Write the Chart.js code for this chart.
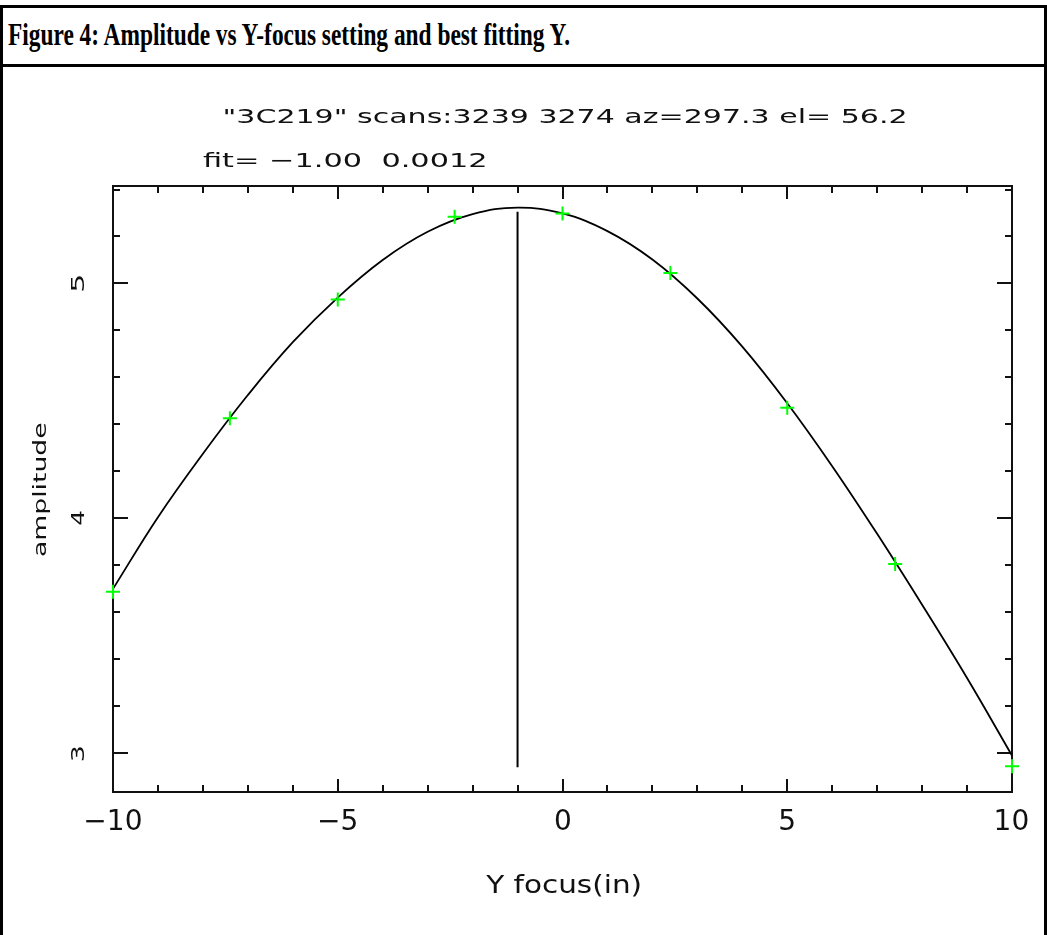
<!DOCTYPE html>
<html><head><meta charset="utf-8">
<script src="https://cdn.jsdelivr.net/npm/chart.js@4.4.1/dist/chart.umd.min.js"></script>
<style>
html,body{margin:0;padding:0;background:#fff;width:1047px;height:935px;overflow:hidden;}
#wrap{position:relative;width:1047px;height:935px;}
#frameL{position:absolute;left:0;top:5px;width:3px;height:930px;background:#000}
#frameR{position:absolute;left:1044px;top:5px;width:3px;height:930px;background:#000}
#frameT{position:absolute;left:0;top:5px;width:1047px;height:3px;background:#000}
#sep{position:absolute;left:0;top:64px;width:1047px;height:3px;background:#000}
#head{position:absolute;left:8px;top:16px;font:bold 32px "Liberation Serif","Times New Roman",serif;white-space:nowrap;transform-origin:0 0;line-height:36px;color:#000}
canvas{position:absolute;left:0;top:0}
</style></head>
<body><div id="wrap">
<div id="frameL"></div><div id="frameR"></div><div id="frameT"></div><div id="sep"></div>
<div id="head"><span id="headtxt">Figure 4: Amplitude vs Y-focus setting and best fitting Y.</span></div>
<canvas id="c" width="1047" height="935"></canvas>
</div>
<script>
// ---- data ----
const fitX = [-10,-9,-8,-7,-6,-5,-4,-3,-2,-1,0,1,2,3,4,5,6,7,8,9,10];
const fitY = [3.70,4.005,4.275,4.525,4.75,4.94,5.10,5.22,5.295,5.323,5.298,5.223,5.102,4.936,4.731,4.49,4.222,3.934,3.632,3.32,2.99];
const obsX = [-10,-7.4,-5,-2.4,0,2.4,5,7.4,10];
const obsY = [3.688,4.426,4.932,5.284,5.298,5.045,4.471,3.806,2.945];
const peakX = [-1,-1];
const peakY = [5.305,2.94];
const xTicks = [-10,-9,-8,-7,-6,-5,-4,-3,-2,-1,0,1,2,3,4,5,6,7,8,9,10];
const xLabels = [-10,-5,0,5,10];
const yTicks = [3.0,3.2,3.4,3.6,3.8,4.0,4.2,4.4,4.6,4.8,5.0,5.2,5.4];
const yLabels = [3,4,5];
const titleLine1 = '"3C219" scans:3239 3274 az=297.3 el= 56.2';
const titleLine2 = 'fit= \u22121.00  0.0012';
const xTitle = 'Y focus(in)';
const yTitle = 'amplitude';

// heading width fit
(function(){const s=document.getElementById('headtxt');const w=s.getBoundingClientRect().width;document.getElementById('head').style.transform='scale('+(562/w)+',1)';})();

const FONT='"DejaVu Sans"';
function txt(ctx, s, o){
  ctx.save();
  ctx.font = o.size+'px '+FONT;
  ctx.textAlign='left'; ctx.textBaseline='alphabetic';
  const m = ctx.measureText(s);
  const iw = m.actualBoundingBoxRight + m.actualBoundingBoxLeft;
  const sx = o.w ? o.w/iw : 1;
  const w = iw*sx;
  const x0 = (o.align==='center') ? -w/2 : 0;
  ctx.translate(o.x, o.y);
  if (o.rot) ctx.rotate(o.rot);
  ctx.translate(x0,0);
  ctx.scale(sx,1);
  ctx.fillStyle='#111';
  ctx.fillText(s, m.actualBoundingBoxLeft, 0);
  ctx.restore();
}
const fmt = v => (v<0?'\u2212':'')+Math.abs(v);

const frame = {
  id:'frame',
  beforeDatasetsDraw(chart){
    const {ctx, chartArea:a, scales:{x,y}} = chart;
    ctx.save();
    ctx.strokeStyle='#111'; ctx.lineWidth=2;
    ctx.strokeRect(a.left, a.top, a.right-a.left, a.bottom-a.top);
    ctx.beginPath();
    xTicks.forEach(v=>{
      const px=Math.round(x.getPixelForValue(v));
      const L = (v%5===0)?13:7;
      ctx.moveTo(px,a.bottom); ctx.lineTo(px,a.bottom-L);
      ctx.moveTo(px,a.top); ctx.lineTo(px,a.top+L);
    });
    yTicks.forEach(v=>{
      const py=Math.round(y.getPixelForValue(v));
      const L = (Math.abs(v-Math.round(v))<1e-6)?15:7;
      ctx.moveTo(a.left,py); ctx.lineTo(a.left+L,py);
      ctx.moveTo(a.right,py); ctx.lineTo(a.right-L,py);
    });
    ctx.stroke();
    ctx.restore();
  },
  afterDraw(chart){
    const {ctx, chartArea:a, scales:{x,y}} = chart;
    xLabels.forEach(v=>{
      txt(ctx, fmt(v), {x:x.getPixelForValue(v), y:829.5, size:28, align:'center'});
    });
    yLabels.forEach(v=>{
      txt(ctx, String(v), {x:84, y:y.getPixelForValue(v), size:18, w:15, align:'center', rot:-Math.PI/2});
    });
    txt(ctx, titleLine1, {x:224, y:123.3, size:20, w:681});
    txt(ctx, titleLine2, {x:203, y:166.5, size:20, w:282});
    txt(ctx, xTitle, {x:(a.left+a.right)/2, y:893, size:25, w:155, align:'center'});
    txt(ctx, yTitle, {x:46, y:(a.top+a.bottom)/2, size:18, w:133, align:'center', rot:-Math.PI/2});
  }
};

const toPts = (xs, ys) => xs.map((v,i)=>({x:v, y:ys[i]}));

new Chart(document.getElementById('c'), {
  type:'scatter',
  data:{datasets:[
    {type:'line', label:'fit', data:toPts(fitX,fitY), borderColor:'#000', borderWidth:1.8, pointRadius:0, tension:0.4, fill:false, order:3},
    {type:'line', label:'best', data:toPts(peakX,peakY), borderColor:'#000', borderWidth:2, pointRadius:0, fill:false, order:2},
    {label:'data', data:toPts(obsX,obsY), pointStyle:'cross', pointRadius:7, pointBorderColor:'#00ff00', borderColor:'#00ff00', pointBorderWidth:2, showLine:false, clip:false, order:1}
  ]},
  options:{
    responsive:false, animation:false, devicePixelRatio:1,
    layout:{padding:{left:113, right:35, top:186, bottom:143}},
    plugins:{legend:{display:false}, tooltip:{enabled:false}, title:{display:false}},
    scales:{
      x:{type:'linear', min:-10, max:10, display:false},
      y:{type:'linear', min:2.835, max:5.415, display:false}
    }
  },
  plugins:[frame]
});
</script>
</body></html>
